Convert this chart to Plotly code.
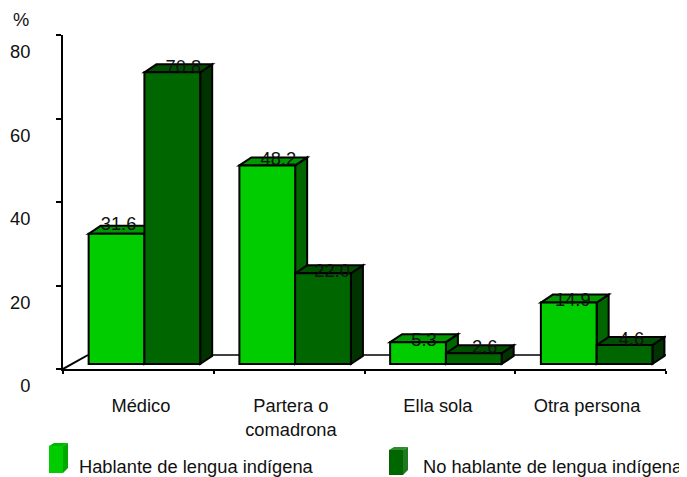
import plotly.graph_objects as go

categories = ["Médico", "Partera o<br>comadrona", "Ella sola", "Otra persona"]
hablante = [31.6, 48.2, 5.3, 14.9]
no_hablante = [70.8, 22.0, 2.6, 4.6]
y_ticks = [0, 20, 40, 60, 80]
series_names = ["Hablante de lengua indígena", "No hablante de lengua indígena"]

# Layout constants (pixels of the 687x477 window; the page body adds an 8px margin)
W, H = 687, 477
PAGE = 8
L, R, T, B = 63, 666, 35, 369
PX_X = 4 / (R - L)          # x units per pixel
BASE_PX = 364               # bar base, front plane
K = 4.12                    # bar pixels per percent
PX_Y = 1 / K
DX, DY = 12 * PX_X, 8 * PX_Y
BAR_W = 0.37
CENTRE = 0.54
FONT = dict(family="Liberation Sans, Arial, sans-serif", size=18.3, color="#111111")
LIGHT, LIGHT_TOP, LIGHT_SIDE = "#00CC00", "#009900", "#006600"
DARK, DARK_TOP, DARK_SIDE = "#006600", "#004F00", "#003300"
# per-label nudges in pixels (dx, dy from bar centre / bar top)
nudge_h = [(2, -8), (11, -5), (6, -1), (4, -1)]
nudge_n = [(11, -4), (9, -1), (11, -5), (7, -5)]

y2_lo = (BASE_PX - B) * PX_Y
y2_hi = (BASE_PX - T) * PX_Y
line = dict(color="black", width=2)


def faces(x0, x1, v, top, side):
    return [
        dict(type="path", xref="x2", yref="y2", layer="below", line=line, fillcolor=side,
             path=f"M{x1},0 L{x1+DX},{DY} L{x1+DX},{v+DY} L{x1},{v} Z"),
        dict(type="path", xref="x2", yref="y2", layer="below", line=line, fillcolor=top,
             path=f"M{x0},{v} L{x0+DX},{v+DY} L{x1+DX},{v+DY} L{x1},{v} Z"),
    ]


floor_y = (B - 355) / (B - T) * 80
floor_y2 = (BASE_PX - 355) * PX_Y
shapes = [dict(type="line", xref="x2", yref="y2", layer="below", line=dict(color="black", width=1.4),
               x0=25 * PX_X, x1=(W - L) * PX_X, y0=floor_y2, y1=floor_y2)]
for i in range(4):
    c = i + CENTRE
    shapes += faces(c - BAR_W, c, hablante[i], LIGHT_TOP, LIGHT_SIDE)
    shapes += faces(c, c + BAR_W, no_hablante[i], DARK_TOP, DARK_SIDE)

# legend icons (paper coordinates are relative to the plot area)
def px(x):
    return (x - L) / (R - L)


def py(y):
    return (B - y) / (B - T)


def legend_icon(x0, y0, y1, front, side, top):
    xs, d = x0 + 14, 5
    return [
        dict(type="path", xref="paper", yref="paper", line=dict(width=0), fillcolor=top,
             path=f"M{px(x0)},{py(y0)} L{px(x0+d)},{py(y0-3)} L{px(xs+d)},{py(y0-3)} L{px(xs)},{py(y0)} Z"),
        dict(type="path", xref="paper", yref="paper", line=dict(width=0), fillcolor=side,
             path=f"M{px(xs)},{py(y0)} L{px(xs+d)},{py(y0-3)} L{px(xs+d)},{py(y1-5)} L{px(xs)},{py(y1)} Z"),
        dict(type="rect", xref="paper", yref="paper", line=dict(width=0), fillcolor=front,
             x0=px(x0), x1=px(xs), y0=py(y1), y1=py(y0)),
    ]


shapes += legend_icon(49, 446, 473, LIGHT, "#00A800", "#00B800")
shapes += legend_icon(389, 450, 475, DARK, "#1F7A1F", "#2E8B2E")

fig = go.Figure()
cx = [i + CENTRE for i in range(4)]
fig.add_trace(go.Bar(x=cx, y=hablante, width=BAR_W, offset=-BAR_W, name=series_names[0],
                     xaxis="x2", yaxis="y2", marker=dict(color=LIGHT, line=line), cliponaxis=False))
fig.add_trace(go.Bar(x=cx, y=no_hablante, width=BAR_W, offset=0, name=series_names[1],
                     xaxis="x2", yaxis="y2", marker=dict(color=DARK, line=line), cliponaxis=False))

# value labels
fig.add_trace(go.Scatter(
    x=[c - BAR_W / 2 + n[0] * PX_X for c, n in zip(cx, nudge_h)],
    y=[v - n[1] * PX_Y for v, n in zip(hablante, nudge_h)],
    text=[f"{v:.1f}" for v in hablante], mode="text", textfont=FONT,
    xaxis="x2", yaxis="y2", cliponaxis=False, name="", hoverinfo="skip"))
fig.add_trace(go.Scatter(
    x=[c + BAR_W / 2 + n[0] * PX_X for c, n in zip(cx, nudge_n)],
    y=[v - n[1] * PX_Y for v, n in zip(no_hablante, nudge_n)],
    text=[f"{v:.1f}" for v in no_hablante], mode="text", textfont=FONT,
    xaxis="x2", yaxis="y2", cliponaxis=False, name="", hoverinfo="skip"))

# side edges of the floor, on the primary axes so the ticks and axis lines are drawn
depth_x = 25 * PX_X
fig.add_trace(go.Scatter(x=[0, depth_x], y=[0, floor_y], mode="lines", xaxis="x", yaxis="y",
                         line=dict(color="black", width=2), cliponaxis=False, hoverinfo="skip"))
fig.add_trace(go.Scatter(x=[4, 4 + 21 * PX_X], y=[0, floor_y], mode="lines", xaxis="x", yaxis="y",
                         line=dict(color="black", width=2), cliponaxis=False, hoverinfo="skip"))

annotations = [
    dict(text="%", xref="paper", yref="paper", x=px(11), y=py(19), xanchor="left", yanchor="middle",
         showarrow=False, font=FONT),
    dict(text=series_names[0], xref="paper", yref="paper", x=px(77), y=py(466), xanchor="left",
         yanchor="middle", showarrow=False, font=FONT),
    dict(text=series_names[1], xref="paper", yref="paper", x=px(421), y=py(466), xanchor="left",
         yanchor="middle", showarrow=False, font=FONT),
]

fig.update_layout(
    width=W - PAGE, height=H - PAGE, autosize=False, showlegend=False, barmode="overlay",
    paper_bgcolor="white", plot_bgcolor="white",
    margin=dict(l=L - PAGE, r=W - R, t=T - PAGE, b=H - B, pad=0, autoexpand=False),
    shapes=shapes, annotations=annotations,
    xaxis=dict(range=[0, 4], tickmode="array", tickvals=[0, 1, 2, 3, 4], showticklabels=False,
               ticks="outside", ticklen=3, tickwidth=1.6, tickcolor="black", showgrid=False,
               zeroline=False, showline=True, linecolor="black", linewidth=2, automargin=False),
    yaxis=dict(range=[0, 80], tickmode="array", tickvals=y_ticks, ticks="outside", ticklen=5,
               tickwidth=1.6, tickcolor="black", showgrid=False, zeroline=False, showline=True,
               linecolor="black", linewidth=2, tickfont=FONT, ticklabelstandoff=22, ticklabelshift=17,
               automargin=False),
    xaxis2=dict(range=[0, 4], overlaying="x", anchor="y", side="bottom", tickmode="array",
                tickvals=[0.517, 1.512, 2.487, 3.476], ticktext=categories, ticks="", showgrid=False,
                zeroline=False, showline=False, tickfont=FONT, ticklabelstandoff=24, automargin=False),
    yaxis2=dict(range=[y2_lo, y2_hi], overlaying="y", anchor="x", visible=False, showgrid=False,
                zeroline=False, automargin=False),
)
fig.write_html("out.html")
